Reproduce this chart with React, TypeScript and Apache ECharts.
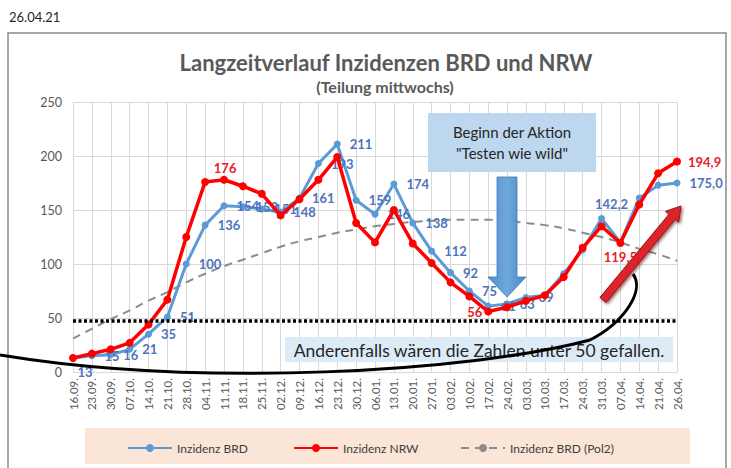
import React, { useEffect, useRef } from "react";
import * as echarts from "echarts";

const categories = [
  "16.09.", "23.09.", "30.09.", "07.10.", "14.10.", "21.10.", "28.10.", "04.11.", "11.11.", "18.11.", "25.11.",
  "02.12.", "09.12.", "16.12.", "23.12.", "30.12.", "06.01.", "13.01.", "20.01.", "27.01.", "03.02.", "10.02.",
  "17.02.", "24.02.", "03.03.", "10.03.", "17.03.", "24.03.", "31.03.", "07.04.", "14.04.", "21.04.", "26.04.",
];
const brd = [13, 15, 16, 21, 35, 51, 100, 136, 154, 153, 151, 148, 161, 193, 211, 159, 146, 174, 138, 112, 92, 75,
  61, 63, 69, 71, 91, 113, 142.2, 120, 161, 173, 175.0];
const nrw = [13, 17, 21, 27, 44, 67, 125, 176, 178, 172, 165, 145, 160, 178, 199, 138, 120, 150, 119, 101, 83, 70,
  56, 60, 66, 71, 88, 115, 135, 119.5, 155, 184, 194.9];
const pol2 = [31, 40, 49, 57, 66, 74, 83, 91, 98, 104, 110, 116, 121, 125, 129, 132, 135, 137, 139, 140, 141, 141,
  141, 140, 138, 136, 133, 129, 125, 120, 114, 109, 103];
const yTicks = { min: 0, max: 250, interval: 50 };
const threshold = 47;
const brdLabelIdx = [0, 1, 2, 3, 4, 5, 6, 7, 8, 9, 10, 11, 12, 13, 14, 15, 16, 17, 18, 19, 20, 21, 22, 23, 24, 28, 32];
const nrwLabelIdx = [7, 22, 29, 32];

const FONT = "Lato, 'Open Sans', sans-serif";

function fmt(v: number, i: number) {
  return i >= 28 ? v.toFixed(1).replace(".", ",") : String(v);
}

function arrowPoints(x0: number, y0: number, x1: number, y1: number, hw: number, headW: number, headL: number) {
  const dx = x1 - x0, dy = y1 - y0;
  const L = Math.hypot(dx, dy);
  const ux = dx / L, uy = dy / L;
  const nx = -uy, ny = ux;
  const bx = x1 - ux * headL, by = y1 - uy * headL;
  return [
    [x0 + nx * hw, y0 + ny * hw],
    [bx + nx * hw, by + ny * hw],
    [bx + nx * headW, by + ny * headW],
    [x1, y1],
    [bx - nx * headW, by - ny * headW],
    [bx - nx * hw, by - ny * hw],
    [x0 - nx * hw, y0 - ny * hw],
  ];
}

export default function App() {
  const ref = useRef<HTMLDivElement>(null);
  useEffect(() => {
    if (!ref.current) return;
    const chart = echarts.init(ref.current, null, { renderer: "svg" });
    const blueLabelSpecial: Record<number, any> = {
      0: { position: "bottom", offset: [12, -5] },
      28: { position: "top", offset: [10, 5] },
    };
    const redLabelSpecial: Record<number, any> = {
      7: { position: "top", offset: [20, 4] },
      22: { position: "left", distance: 2 },
      29: { position: "bottom", distance: 4 },
      32: { position: "right", distance: 7 },
    };
    const brdData = brd.map((v, i) => ({
      value: v,
      label: {
        show: brdLabelIdx.includes(i),
        ...(blueLabelSpecial[i] || {}),
      },
    }));
    const nrwData = nrw.map((v, i) => ({
      value: v,
      label: {
        show: nrwLabelIdx.includes(i),
        ...(redLabelSpecial[i] || {}),
      },
    }));
    const legendBase = {
      top: 437,
      itemWidth: 44,
      itemHeight: 10,
      itemGap: 4,
      textStyle: { color: "#404040", fontSize: 12, fontFamily: FONT },
      z: 10,
    };
    chart.setOption({
      animation: false,
      backgroundColor: "#ffffff",
      textStyle: { fontFamily: FONT },
      grid: { left: 73, right: 54, top: 102, bottom: 96, containLabel: false },
      legend: [
        { ...legendBase, left: 122, data: ["Inzidenz BRD"] },
        { ...legendBase, left: 288, data: ["Inzidenz NRW"] },
        { ...legendBase, left: 455, data: ["Inzidenz BRD (Pol2)"] },
      ],
      xAxis: {
        type: "category",
        data: categories,
        boundaryGap: false,
        axisLine: { show: true, lineStyle: { color: "#d9d9d9" } },
        axisTick: { show: false },
        splitLine: { show: true, interval: 0, lineStyle: { color: "#d9d9d9", width: 1 } },
        axisLabel: { rotate: 90, interval: 0, color: "#595959", fontSize: 11.5, margin: 6, fontFamily: FONT },
      },
      yAxis: {
        type: "value",
        min: yTicks.min,
        max: yTicks.max,
        interval: yTicks.interval,
        axisLine: { show: false },
        axisTick: { show: false },
        splitLine: { lineStyle: { color: "#d9d9d9", width: 1 } },
        axisLabel: { color: "#595959", fontSize: 12.5, margin: 11, fontFamily: FONT },
      },
      series: [
        {
          name: "Inzidenz BRD (Pol2)",
          type: "line",
          data: pol2,
          symbol: "none",
          smooth: true,
          lineStyle: { color: "#8c8c8c", width: 2, type: [8, 6] },
          itemStyle: { color: "#8c8c8c" },
          z: 1,
          markLine: {
            silent: true,
            symbol: "none",
            label: { show: false },
            lineStyle: { color: "#000000", width: 3.5, type: [3, 2.5] },
            data: [{ yAxis: threshold }],
          },
        },
        {
          name: "Inzidenz BRD",
          type: "line",
          data: brdData,
          symbol: "circle",
          symbolSize: 7,
          lineStyle: { color: "#5B9BD5", width: 3 },
          itemStyle: { color: "#5B9BD5" },
          label: {
            position: "right",
            distance: 9,
            color: "#4E72BD",
            fontSize: 13,
            fontWeight: "bold",
            fontFamily: FONT,
            formatter: (p: any) => fmt(p.value, p.dataIndex),
          },
          z: 2,
        },
        {
          name: "Inzidenz NRW",
          type: "line",
          data: nrwData,
          symbol: "circle",
          symbolSize: 8,
          lineStyle: { color: "#FF0000", width: 3.5 },
          itemStyle: { color: "#FF0000" },
          label: {
            position: "right",
            distance: 7,
            color: "#E8202A",
            fontSize: 13,
            fontWeight: "bold",
            fontFamily: FONT,
            formatter: (p: any) => fmt(p.value, p.dataIndex),
          },
          z: 3,
        },
      ],
      graphic: [
        {
          type: "rect",
          shape: { x: 8, y: 33, width: 718, height: 445 },
          style: { fill: "none", stroke: "#8a8a8a", lineWidth: 1.5 },
          z: -10,
          silent: true,
        },
        {
          type: "text",
          x: 9,
          y: 10,
          style: { text: "26.04.21", fill: "#262626", fontSize: 13, fontFamily: FONT },
          z: 50,
        },
        {
          type: "text",
          x: 386,
          y: 62,
          style: {
            text: "Langzeitverlauf Inzidenzen BRD und NRW",
            fill: "#595959",
            fontSize: 22,
            fontWeight: "bold",
            fontFamily: FONT,
            align: "center",
            verticalAlign: "middle",
          },
          z: 50,
        },
        {
          type: "text",
          x: 385,
          y: 86,
          style: {
            text: "(Teilung mittwochs)",
            fill: "#595959",
            fontSize: 16,
            fontWeight: "bold",
            fontFamily: FONT,
            align: "center",
            verticalAlign: "middle",
          },
          z: 50,
        },
        {
          type: "rect",
          shape: { x: 85, y: 428, width: 605, height: 36 },
          style: { fill: "#FBE5D6" },
          z: -5,
          silent: true,
        },
        {
          type: "rect",
          shape: { x: 428, y: 113, width: 168, height: 59 },
          style: { fill: "#BDD7EE" },
          z: 50,
        },
        {
          type: "text",
          x: 512,
          y: 142,
          style: {
            text: 'Beginn der Aktion\n"Testen wie wild"',
            fill: "#262626",
            fontSize: 15,
            lineHeight: 21,
            fontFamily: FONT,
            align: "center",
            verticalAlign: "middle",
          },
          z: 51,
        },
        {
          type: "polygon",
          shape: {
            points: [[497, 177], [517, 177], [517, 277], [526, 277], [507, 297], [488, 277], [497, 277]],
          },
          style: {
            fill: new echarts.graphic.LinearGradient(0, 0, 1, 0, [
              { offset: 0, color: "#4F8ED0" },
              { offset: 0.5, color: "#6FA8DC" },
              { offset: 1, color: "#4A86C5" },
            ]),
            stroke: "#4178B5",
            lineWidth: 0.8,
          },
          z: 52,
        },
        {
          type: "rect",
          shape: { x: 285, y: 337, width: 388, height: 25 },
          style: { fill: "#DDEBF7" },
          z: 50,
        },
        {
          type: "text",
          x: 479,
          y: 350,
          style: {
            text: "Anderenfalls wären die Zahlen unter 50 gefallen.",
            fill: "#262626",
            fontSize: 17.5,
            fontFamily: FONT,
            align: "center",
            verticalAlign: "middle",
          },
          z: 51,
        },
        {
          type: "bezierCurve",
          shape: { x1: 0, y1: 355, cpx1: 200, cpy1: 388, cpx2: 470, cpy2: 372, x2: 590, y2: 340 },
          style: { stroke: "#000000", lineWidth: 3, fill: "none" },
          z: 60,
        },
        {
          type: "bezierCurve",
          shape: { x1: 590, y1: 340, cpx1: 625, cpy1: 322, cpx2: 645, cpy2: 290, x2: 633, y2: 274 },
          style: { stroke: "#000000", lineWidth: 3, fill: "none" },
          z: 60,
        },
        {
          type: "polygon",
          shape: { points: arrowPoints(603, 300, 681, 206, 4, 8.5, 14) },
          style: {
            fill: "#E0202C",
            stroke: "#8B1A1A",
            lineWidth: 1,
            shadowColor: "rgba(90,0,0,0.6)",
            shadowBlur: 3,
            shadowOffsetX: 1.5,
            shadowOffsetY: 1.5,
          },
          z: 70,
        },
      ],
    });
    return () => chart.dispose();
  }, []);
  return (
    <div
      ref={ref}
      style={{ position: "absolute", left: 0, top: 0, width: 731, height: 468, background: "#fff" }}
    />
  );
}
